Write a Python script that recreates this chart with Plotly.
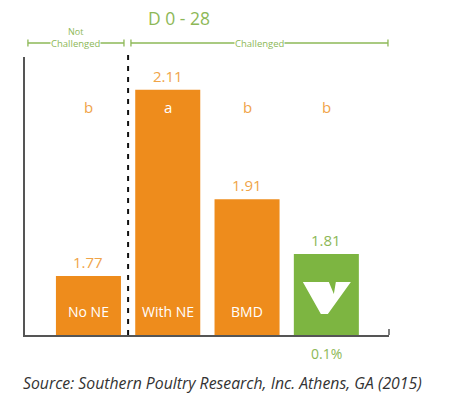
import plotly.graph_objects as go

# data
groups = ["No NE", "With NE", "BMD", "V"]
fcr = [1.77, 2.11, 1.91, 1.81]
letters = ["b", "a", "b", "b"]
inside_labels = ["No NE", "With NE", "BMD", ""]
dose_label = "0.1%"

ORANGE = "#EE8C1C"
LT_ORANGE = "#F0A448"
GREEN = "#7DB541"
LT_GREEN = "#8DB857"
FONT = "Open Sans"

bar_colors = [ORANGE, ORANGE, ORANGE, GREEN]
xs = list(range(len(groups)))

fig = go.Figure()
fig.add_trace(go.Bar(
    x=xs, y=fcr, width=0.82, marker_color=bar_colors,
    marker_line_width=0, hoverinfo="skip",
))

y0, y1 = 1.662, 2.17
px_per_y = 278 / (y1 - y0)
px_per_x = 364 / (3.79 + 0.80)

ann = []
for i, v in enumerate(fcr):
    col = LT_GREEN if bar_colors[i] == GREEN else LT_ORANGE
    ann.append(dict(x=i, y=v, yref="y", xref="x", text=f"{v:.2f}", showarrow=False,
                    yshift=14, yanchor="middle", font=dict(size=15, color=col, family=FONT)))
    in_bar = (v - y0) * px_per_y > 230
    ann.append(dict(x=i, y=0.82, xref="x", yref="paper", text=letters[i], showarrow=False,
                    yanchor="middle",
                    font=dict(size=15, color="white" if in_bar else LT_ORANGE, family=FONT)))
    if inside_labels[i]:
        ann.append(dict(x=i, y=0.083, xref="x", yref="paper", text=inside_labels[i],
                        showarrow=False, yanchor="middle",
                        font=dict(size=14, color="white", family=FONT)))

ann.append(dict(x=3, y=-0.068, xref="x", yref="paper", text=dose_label, showarrow=False,
                yanchor="middle", font=dict(size=14, color=LT_GREEN, family=FONT)))
ann.append(dict(x=-0.01, y=-0.173, xref="paper", yref="paper", xanchor="left", yanchor="middle",
                text="<i>Source: Southern Poultry Research, Inc. Athens, GA (2015)</i>",
                showarrow=False, font=dict(size=15.8, color="#333333", family=FONT)))
ann.append(dict(x=1.14, y=1.14, xref="x", yref="paper", text="D 0 - 28", showarrow=False,
                yanchor="middle", borderpad=0, font=dict(size=17.5, color=LT_GREEN, family=FONT)))

# group brackets
br_y = (335 - 43) / 278
brackets = [(-0.763, 0.448, "Challenged", "Not"), (0.536, 3.777, "Challenged", "")]
shapes = []
for xa, xb, label, upper in brackets:
    shapes.append(dict(type="line", xref="x", yref="paper", x0=xa, x1=xb, y0=br_y, y1=br_y,
                       line=dict(color=LT_GREEN, width=1.3)))
    for xe in (xa, xb):
        shapes.append(dict(type="line", xref="x", yref="paper", x0=xe, x1=xe,
                           y0=br_y - 0.013, y1=br_y + 0.013, line=dict(color=LT_GREEN, width=1.3)))
    ann.append(dict(x=(xa + xb) / 2, y=br_y, xref="x", yref="paper", text=label,
                    showarrow=False, bgcolor="white", yanchor="middle", borderpad=0,
                    font=dict(size=9.5, color=LT_GREEN, family=FONT)))
    if upper:
        ann.append(dict(x=(xa + xb) / 2, y=br_y, xref="x", yref="paper", text=upper,
                        showarrow=False, yanchor="middle", yshift=12, borderpad=0,
                        font=dict(size=9, color=LT_GREEN, family=FONT)))

# divider between not challenged and challenged
shapes.append(dict(type="line", xref="x", yref="paper", x0=0.5, x1=0.5, y0=0, y1=1.025,
                   line=dict(color="#111111", width=2, dash="5px,6px")))
# right-end tick of the baseline
shapes.append(dict(type="line", xref="paper", yref="paper", x0=1, x1=1, y0=0, y1=0.022,
                   line=dict(color="#555555", width=1.5)))

# white logo on the green bar
logo_px = [(303, 282), (329, 282), (334, 294), (336, 282), (351, 282), (328, 314), (321, 314)]
path = ""
for k, (px, py) in enumerate(logo_px):
    xd = 3 + (px - 326.5) / px_per_x
    yd = y0 + (335 - py) / px_per_y
    path += ("M" if k == 0 else "L") + f"{xd:.4f},{yd:.4f} "
path += "Z"
shapes.append(dict(type="path", xref="x", yref="y", path=path, fillcolor="white",
                   line=dict(width=0)))

fig.update_layout(
    width=450, height=405,
    margin=dict(l=17, r=69, t=49, b=78),
    paper_bgcolor="white", plot_bgcolor="white",
    showlegend=False,
    xaxis=dict(range=[-0.80, 3.79], showticklabels=False, showgrid=False, zeroline=False,
               showline=True, linecolor="#555555", linewidth=1.5, ticks=""),
    yaxis=dict(range=[y0, y1], showticklabels=False, showgrid=False, zeroline=False,
               showline=True, linecolor="#555555", linewidth=1.5, ticks=""),
    annotations=ann,
    shapes=shapes,
)

fig.write_html("out.html")
